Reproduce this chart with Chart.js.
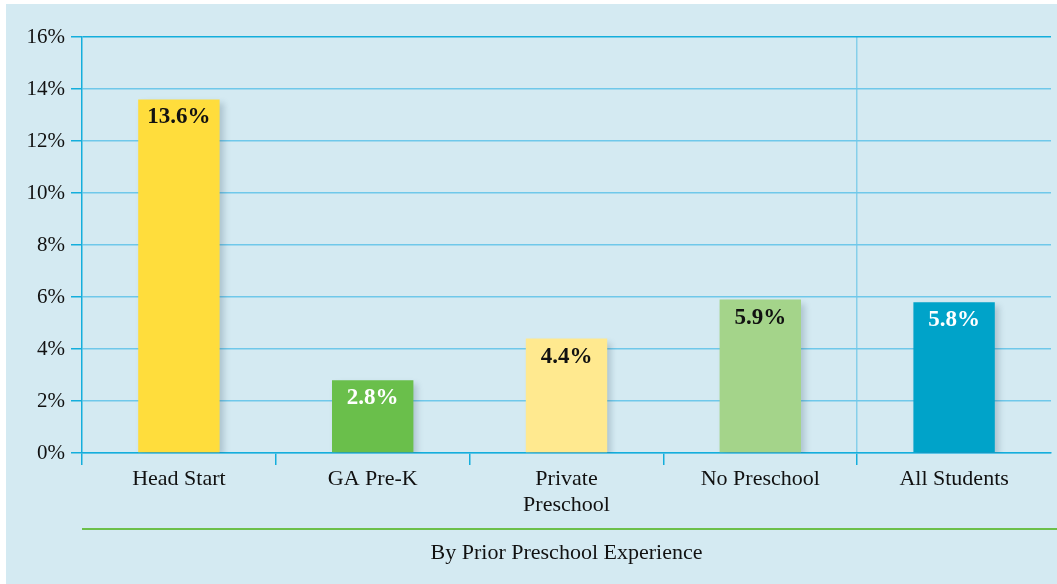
<!DOCTYPE html>
<html>
<head>
<meta charset="utf-8">
<script src="https://cdn.jsdelivr.net/npm/chart.js@4/dist/chart.umd.min.js"></script>
<style>
  html, body { margin: 0; padding: 0; background: #ffffff; }
  #wrap { width: 1057px; height: 584px; }
</style>
</head>
<body>
<div id="wrap"><canvas id="miGrafico" width="1057" height="584"></canvas></div>
<script>
// datos
const categorias = ['Head Start', 'GA Pre-K', ['Private', 'Preschool'], 'No Preschool', 'All Students'];
const valores = [13.6, 2.8, 4.4, 5.9, 5.8];
const coloresBarras = ['#ffdd3c', '#6abf4b', '#ffe98f', '#a4d48a', '#00a3c9'];
const coloresTexto = ['#111111', '#ffffff', '#111111', '#111111', '#ffffff'];
const tituloEjeX = 'By Prior Preschool Experience';

const FUENTE = "'Liberation Serif', 'DejaVu Serif', serif";
const AZUL_EJE = '#14aedc';
const AZUL_GRID = '#6fc8ea';
const NADA = 'rgba(0,0,0,0)';

// fondo celeste
const fondo = {
    id: 'fondo',
    beforeDraw(chart) {
        const ctx = chart.ctx;
        ctx.save();
        ctx.fillStyle = '#d4eaf2';
        ctx.fillRect(6, 4, chart.width - 6, chart.height - 4);
        ctx.restore();
    }
};

// sombra de las barras
const sombra = {
    id: 'sombra',
    beforeDatasetDraw(chart) {
        const ctx = chart.ctx;
        ctx.save();
        ctx.shadowColor = 'rgba(40,70,90,0.22)';
        ctx.shadowOffsetX = 4;
        ctx.shadowOffsetY = 4;
        ctx.shadowBlur = 6;
    },
    afterDatasetDraw(chart) {
        chart.ctx.restore();
    }
};

// etiquetas dentro de la barra + linea verde
const etiquetas = {
    id: 'etiquetas',
    afterDatasetsDraw(chart) {
        const ctx = chart.ctx;
        const meta = chart.getDatasetMeta(0);
        ctx.save();
        ctx.font = 'bold 23px ' + FUENTE;
        ctx.textAlign = 'center';
        ctx.textBaseline = 'middle';
        meta.data.forEach(function (bar, i) {
            ctx.fillStyle = coloresTexto[i];
            ctx.fillText(valores[i].toFixed(1) + '%', bar.x, bar.y + 18);
        });
        ctx.restore();
    },
    afterDraw(chart) {
        const ctx = chart.ctx;
        const area = chart.chartArea;
        ctx.save();
        ctx.strokeStyle = '#6cc04a';
        ctx.lineWidth = 2;
        ctx.beginPath();
        ctx.moveTo(area.left, 529);
        ctx.lineTo(chart.width, 529);
        ctx.stroke();
        ctx.restore();
    }
};

function esTick(c) { return c.type === 'tick'; }

const GRAFICO = document.getElementById('miGrafico');

let grafica = new Chart(GRAFICO, {
    type: 'bar',
    data: {
        labels: categorias,
        datasets: [{
            data: valores,
            backgroundColor: coloresBarras,
            borderWidth: 0,
            categoryPercentage: 1.0,
            barPercentage: 0.42
        }]
    },
    plugins: [fondo, sombra, etiquetas],
    options: {
        responsive: false,
        animation: false,
        layout: {
            padding: { top: 37, right: 6, left: 0, bottom: 0 }
        },
        plugins: {
            legend: { display: false },
            tooltip: { enabled: false }
        },
        scales: {
            x: {
                grid: {
                    offset: true,
                    drawOnChartArea: true,
                    tickLength: 12,
                    // solo la linea antes de "All Students" cruza el area
                    color: function (c) { return esTick(c) && c.index === 4 ? '#86cfea' : NADA; },
                    lineWidth: function (c) { return esTick(c) ? 1.5 : 0; },
                    tickWidth: function (c) { return esTick(c) ? 1.5 : 0; },
                    tickColor: function (c) { return esTick(c) ? AZUL_EJE : NADA; }
                },
                border: { display: true, color: AZUL_EJE, width: 1.5 },
                ticks: {
                    color: '#111111',
                    padding: 2,
                    maxRotation: 0,
                    autoSkip: false,
                    font: { family: FUENTE, size: 22, lineHeight: 1.15 }
                },
                title: {
                    display: true,
                    text: tituloEjeX,
                    color: '#111111',
                    padding: { top: 0, bottom: 18 },
                    font: { family: FUENTE, size: 22 }
                },
                afterFit: function (scale) { scale.height = 131; }
            },
            y: {
                min: 0,
                max: 16,
                ticks: {
                    stepSize: 2,
                    color: '#111111',
                    padding: 6,
                    font: { family: FUENTE, size: 21 },
                    callback: function (value) { return value + '%'; }
                },
                grid: {
                    tickLength: 11,
                    lineWidth: 1.5,
                    tickWidth: 1.5,
                    color: function (c) { return c.index === 8 ? AZUL_EJE : AZUL_GRID; },
                    tickColor: AZUL_EJE
                },
                border: { display: true, color: AZUL_EJE, width: 1.5 },
                afterFit: function (scale) { scale.width = 82; }
            }
        }
    }
});
</script>
</body>
</html>
